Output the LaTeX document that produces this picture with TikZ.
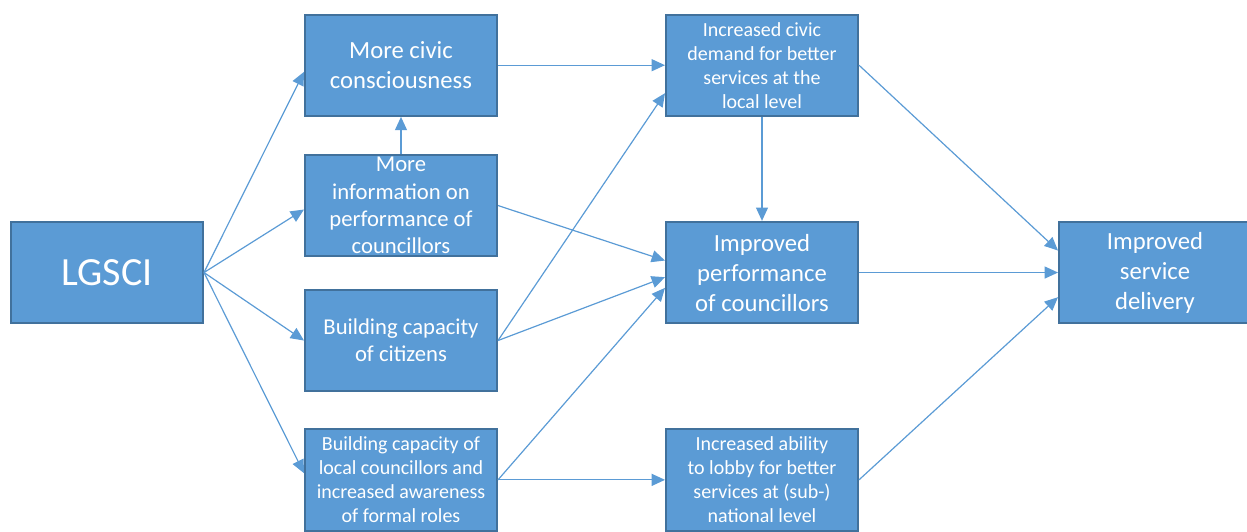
\documentclass[tikz,border=0pt]{standalone}
\usepackage{fontspec}
\setmainfont{Carlito}
\usepackage{xcolor}
\usetikzlibrary{arrows.meta, positioning}

\definecolor{boxfill}{HTML}{5B9BD5}
\definecolor{boxline}{HTML}{41719C}

\begin{document}
\begin{tikzpicture}[
  box/.style={draw=boxline, fill=boxfill, line width=1.5pt, minimum width=144pt, minimum height=76pt,
              inner ysep=0pt, align=center, text=white},
  hugefont/.style={font=\fontsize{30}{36}\selectfont},
  bigfont/.style={font=\fontsize{18.5}{22.5}\selectfont},
  midfont/.style={font=\fontsize{17}{20.5}\selectfont},
  smallfont/.style={font=\fontsize{15}{18}\selectfont},
  arrow/.style={-{Triangle[length=10pt, width=9pt]}, line width=0.9pt, boxfill}
]
  \useasboundingbox (-80.25pt,-194.6pt) rectangle (855pt,204.4pt);

  %% Programme
  \node[box, hugefont] (lgsci) {LGSCI};

  %% Outcomes
  \node[box, bigfont, right=345.75pt of lgsci] (perf) {Improved\\performance\\of councillors};
  \node[box, smallfont, above=78pt of perf] (demand) {Increased civic\\demand for better\\services at the\\local level};
  \node[box, smallfont, below=78pt of perf] (ability) {Increased ability\\to lobby for better\\services at (sub-)\\national level};

  %% Impact
  \node[box, bigfont, right=149.25pt of perf] (delivery) {Improved\\service\\delivery};

  %% Outputs
  \node[box, bigfont, left=125.25pt of demand] (civic) {More civic\\consciousness};
  \node[box, midfont, below=27.75pt of civic] (info) {More\\information on\\performance of\\councillors};
  \node[box, smallfont, left=125.25pt of ability] (local) {Building capacity of\\local councillors and\\increased awareness\\of formal roles};
  \node[box, midfont, above=27pt of local] (citizens) {Building capacity\\of citizens};

  %% Arrows
  \draw[arrow] (lgsci.east) -- ([yshift=-5pt]civic.west);
  \draw[arrow] (lgsci.east) -- ([yshift=-3pt]info.west);
  \draw[arrow] (lgsci.east) -- (citizens.west);
  \draw[arrow] (lgsci.east) -- ([yshift=5pt]local.west);
  \draw[arrow] (info) -- (civic);
  \draw[arrow] (civic) -- (demand);
  \draw[arrow] (info.east) -- ([yshift=9pt]perf.west);
  \draw[arrow] (citizens.east) -- ([yshift=-21pt]demand.west);
  \draw[arrow] (citizens.east) -- ([yshift=-3.5pt]perf.west);
  \draw[arrow] (local.east) -- ([yshift=-11.5pt]perf.west);
  \draw[arrow] (local.east) -- (local.east -| ability.west);
  \draw[arrow] (demand) -- (perf);
  \draw[arrow] (demand.east) -- ([yshift=16.5pt]delivery.west);
  \draw[arrow] (perf) -- (delivery);
  \draw[arrow] (ability.east) -- ([yshift=-18.5pt]delivery.west);
\end{tikzpicture}
\end{document}
